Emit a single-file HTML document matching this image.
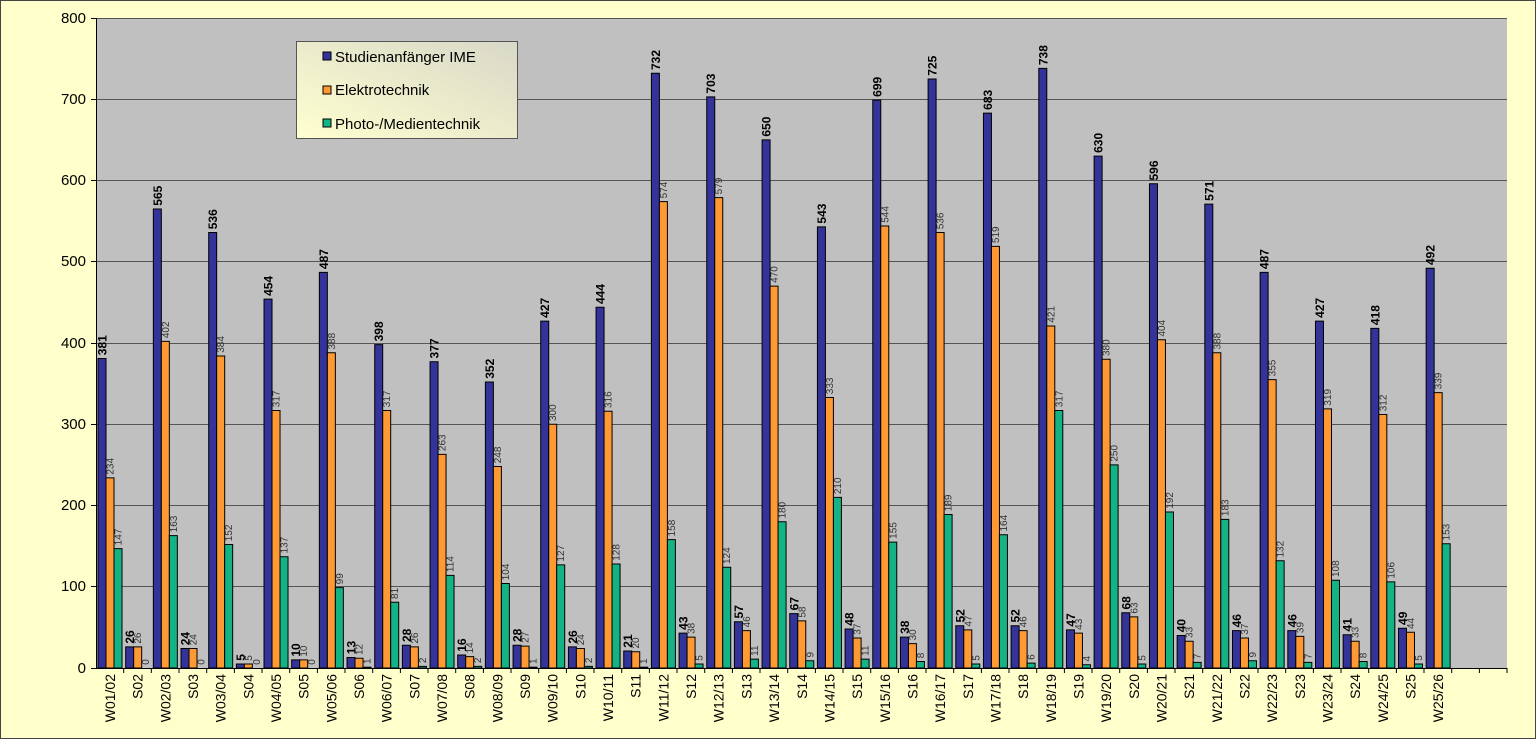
<!DOCTYPE html>
<html><head><meta charset="utf-8"><style>
html,body{margin:0;padding:0;background:#ffffcc}
svg{display:block;font-family:"Liberation Sans",Arial,sans-serif}
.c{font-size:14px;text-anchor:end;fill:#000}
.vb{font-size:12px;font-weight:bold;fill:#000}
.vs{font-size:10px;fill:#333}
.b{fill:#333399;stroke:#000;stroke-width:1;vector-effect:non-scaling-stroke}
.o{fill:#ff9933;stroke:#000;stroke-width:1;vector-effect:non-scaling-stroke}
.g{fill:#14b386;stroke:#000;stroke-width:1;vector-effect:non-scaling-stroke}
.y{font-size:15px;text-anchor:end}
</style></head><body>
<svg width="1536" height="739" viewBox="0 0 1536 739" xmlns="http://www.w3.org/2000/svg">
<defs><linearGradient id="lg" x1="0" y1="1" x2="1" y2="0"><stop offset="0" stop-color="#ffffd0"/><stop offset="1" stop-color="#d8d8c8"/></linearGradient></defs>
<rect x="0.5" y="0.5" width="1535" height="738" fill="#ffffcc" stroke="#444"/>
<rect x="96" y="18" width="1411" height="650" fill="#c0c0c0"/>
<g stroke="#555" stroke-width="1">
<line x1="96" y1="18.5" x2="1507" y2="18.5"/><line x1="96" y1="99.5" x2="1507" y2="99.5"/><line x1="96" y1="180.5" x2="1507" y2="180.5"/><line x1="96" y1="261.5" x2="1507" y2="261.5"/><line x1="96" y1="343.5" x2="1507" y2="343.5"/><line x1="96" y1="424.5" x2="1507" y2="424.5"/><line x1="96" y1="505.5" x2="1507" y2="505.5"/><line x1="96" y1="586.5" x2="1507" y2="586.5"/>
</g>
<g class="y"><text x="86" y="23">800</text><text x="86" y="104">700</text><text x="86" y="185">600</text><text x="86" y="266">500</text><text x="86" y="348">400</text><text x="86" y="429">300</text><text x="86" y="510">200</text><text x="86" y="591">100</text><text x="86" y="673">0</text></g>
<g stroke="#000" stroke-width="1"><line x1="96.5" y1="18" x2="96.5" y2="669"/><line x1="96" y1="668.5" x2="1507" y2="668.5"/>
<line x1="91" y1="18.5" x2="96" y2="18.5"/><line x1="91" y1="99.5" x2="96" y2="99.5"/><line x1="91" y1="180.5" x2="96" y2="180.5"/><line x1="91" y1="261.5" x2="96" y2="261.5"/><line x1="91" y1="343.5" x2="96" y2="343.5"/><line x1="91" y1="424.5" x2="96" y2="424.5"/><line x1="91" y1="505.5" x2="96" y2="505.5"/><line x1="91" y1="586.5" x2="96" y2="586.5"/><line x1="91" y1="668.5" x2="96" y2="668.5"/>
<line x1="123.7" y1="668" x2="123.7" y2="673"/><line x1="151.3" y1="668" x2="151.3" y2="673"/><line x1="179" y1="668" x2="179" y2="673"/><line x1="206.7" y1="668" x2="206.7" y2="673"/><line x1="234.4" y1="668" x2="234.4" y2="673"/><line x1="262" y1="668" x2="262" y2="673"/><line x1="289.7" y1="668" x2="289.7" y2="673"/><line x1="317.4" y1="668" x2="317.4" y2="673"/><line x1="345" y1="668" x2="345" y2="673"/><line x1="372.7" y1="668" x2="372.7" y2="673"/><line x1="400.4" y1="668" x2="400.4" y2="673"/><line x1="428" y1="668" x2="428" y2="673"/><line x1="455.7" y1="668" x2="455.7" y2="673"/><line x1="483.4" y1="668" x2="483.4" y2="673"/><line x1="511" y1="668" x2="511" y2="673"/><line x1="538.7" y1="668" x2="538.7" y2="673"/><line x1="566.4" y1="668" x2="566.4" y2="673"/><line x1="594" y1="668" x2="594" y2="673"/><line x1="621.7" y1="668" x2="621.7" y2="673"/><line x1="649.4" y1="668" x2="649.4" y2="673"/><line x1="677" y1="668" x2="677" y2="673"/><line x1="704.7" y1="668" x2="704.7" y2="673"/><line x1="732.4" y1="668" x2="732.4" y2="673"/><line x1="760" y1="668" x2="760" y2="673"/><line x1="787.7" y1="668" x2="787.7" y2="673"/><line x1="815.4" y1="668" x2="815.4" y2="673"/><line x1="843" y1="668" x2="843" y2="673"/><line x1="870.7" y1="668" x2="870.7" y2="673"/><line x1="898.4" y1="668" x2="898.4" y2="673"/><line x1="926" y1="668" x2="926" y2="673"/><line x1="953.7" y1="668" x2="953.7" y2="673"/><line x1="981.4" y1="668" x2="981.4" y2="673"/><line x1="1009" y1="668" x2="1009" y2="673"/><line x1="1036.7" y1="668" x2="1036.7" y2="673"/><line x1="1064.4" y1="668" x2="1064.4" y2="673"/><line x1="1092" y1="668" x2="1092" y2="673"/><line x1="1119.7" y1="668" x2="1119.7" y2="673"/><line x1="1147.4" y1="668" x2="1147.4" y2="673"/><line x1="1175" y1="668" x2="1175" y2="673"/><line x1="1202.7" y1="668" x2="1202.7" y2="673"/><line x1="1230.4" y1="668" x2="1230.4" y2="673"/><line x1="1258" y1="668" x2="1258" y2="673"/><line x1="1285.7" y1="668" x2="1285.7" y2="673"/><line x1="1313.4" y1="668" x2="1313.4" y2="673"/><line x1="1341" y1="668" x2="1341" y2="673"/><line x1="1368.7" y1="668" x2="1368.7" y2="673"/><line x1="1396.4" y1="668" x2="1396.4" y2="673"/><line x1="1424" y1="668" x2="1424" y2="673"/><line x1="1451.7" y1="668" x2="1451.7" y2="673"/><line x1="1479.4" y1="668" x2="1479.4" y2="673"/><line x1="1507" y1="668" x2="1507" y2="673"/>
</g>

<g transform="translate(96,0)"><text class="c" transform="translate(19,674) rotate(-90)">W01/02</text><g transform="translate(0,668) scale(1,-0.8125)"><rect x="2" width="8" height="381" class="b"/><rect x="10" width="8" height="234" class="o"/><rect x="18" width="8" height="147" class="g"/><text class="vb" transform="translate(10.5,385) scale(1,-1.2308) rotate(-90)">381</text><text class="vs" transform="translate(17.5,238) scale(1,-1.2308) rotate(-90)">234</text><text class="vs" transform="translate(25.5,151) scale(1,-1.2308) rotate(-90)">147</text></g></g>
<g transform="translate(123.67,0)"><text class="c" transform="translate(19,674) rotate(-90)">S02</text><g transform="translate(0,668) scale(1,-0.8125)"><rect x="2" width="8" height="26" class="b"/><rect x="10" width="8" height="26" class="o"/><rect x="18" width="8" height="0" class="g"/><text class="vb" transform="translate(10.5,30) scale(1,-1.2308) rotate(-90)">26</text><text class="vs" transform="translate(17.5,30) scale(1,-1.2308) rotate(-90)">26</text><text class="vs" transform="translate(25.5,4) scale(1,-1.2308) rotate(-90)">0</text></g></g>
<g transform="translate(151.34,0)"><text class="c" transform="translate(19,674) rotate(-90)">W02/03</text><g transform="translate(0,668) scale(1,-0.8125)"><rect x="2" width="8" height="565" class="b"/><rect x="10" width="8" height="402" class="o"/><rect x="18" width="8" height="163" class="g"/><text class="vb" transform="translate(10.5,569) scale(1,-1.2308) rotate(-90)">565</text><text class="vs" transform="translate(17.5,406) scale(1,-1.2308) rotate(-90)">402</text><text class="vs" transform="translate(25.5,167) scale(1,-1.2308) rotate(-90)">163</text></g></g>
<g transform="translate(179.01,0)"><text class="c" transform="translate(19,674) rotate(-90)">S03</text><g transform="translate(0,668) scale(1,-0.8125)"><rect x="2" width="8" height="24" class="b"/><rect x="10" width="8" height="24" class="o"/><rect x="18" width="8" height="0" class="g"/><text class="vb" transform="translate(10.5,28) scale(1,-1.2308) rotate(-90)">24</text><text class="vs" transform="translate(17.5,28) scale(1,-1.2308) rotate(-90)">24</text><text class="vs" transform="translate(25.5,4) scale(1,-1.2308) rotate(-90)">0</text></g></g>
<g transform="translate(206.68,0)"><text class="c" transform="translate(19,674) rotate(-90)">W03/04</text><g transform="translate(0,668) scale(1,-0.8125)"><rect x="2" width="8" height="536" class="b"/><rect x="10" width="8" height="384" class="o"/><rect x="18" width="8" height="152" class="g"/><text class="vb" transform="translate(10.5,540) scale(1,-1.2308) rotate(-90)">536</text><text class="vs" transform="translate(17.5,388) scale(1,-1.2308) rotate(-90)">384</text><text class="vs" transform="translate(25.5,156) scale(1,-1.2308) rotate(-90)">152</text></g></g>
<g transform="translate(234.35,0)"><text class="c" transform="translate(19,674) rotate(-90)">S04</text><g transform="translate(0,668) scale(1,-0.8125)"><rect x="2" width="8" height="5" class="b"/><rect x="10" width="8" height="5" class="o"/><rect x="18" width="8" height="0" class="g"/><text class="vb" transform="translate(10.5,9) scale(1,-1.2308) rotate(-90)">5</text><text class="vs" transform="translate(17.5,9) scale(1,-1.2308) rotate(-90)">5</text><text class="vs" transform="translate(25.5,4) scale(1,-1.2308) rotate(-90)">0</text></g></g>
<g transform="translate(262.02,0)"><text class="c" transform="translate(19,674) rotate(-90)">W04/05</text><g transform="translate(0,668) scale(1,-0.8125)"><rect x="2" width="8" height="454" class="b"/><rect x="10" width="8" height="317" class="o"/><rect x="18" width="8" height="137" class="g"/><text class="vb" transform="translate(10.5,458) scale(1,-1.2308) rotate(-90)">454</text><text class="vs" transform="translate(17.5,321) scale(1,-1.2308) rotate(-90)">317</text><text class="vs" transform="translate(25.5,141) scale(1,-1.2308) rotate(-90)">137</text></g></g>
<g transform="translate(289.69,0)"><text class="c" transform="translate(19,674) rotate(-90)">S05</text><g transform="translate(0,668) scale(1,-0.8125)"><rect x="2" width="8" height="10" class="b"/><rect x="10" width="8" height="10" class="o"/><rect x="18" width="8" height="0" class="g"/><text class="vb" transform="translate(10.5,14) scale(1,-1.2308) rotate(-90)">10</text><text class="vs" transform="translate(17.5,14) scale(1,-1.2308) rotate(-90)">10</text><text class="vs" transform="translate(25.5,4) scale(1,-1.2308) rotate(-90)">0</text></g></g>
<g transform="translate(317.36,0)"><text class="c" transform="translate(19,674) rotate(-90)">W05/06</text><g transform="translate(0,668) scale(1,-0.8125)"><rect x="2" width="8" height="487" class="b"/><rect x="10" width="8" height="388" class="o"/><rect x="18" width="8" height="99" class="g"/><text class="vb" transform="translate(10.5,491) scale(1,-1.2308) rotate(-90)">487</text><text class="vs" transform="translate(17.5,392) scale(1,-1.2308) rotate(-90)">388</text><text class="vs" transform="translate(25.5,103) scale(1,-1.2308) rotate(-90)">99</text></g></g>
<g transform="translate(345.03,0)"><text class="c" transform="translate(19,674) rotate(-90)">S06</text><g transform="translate(0,668) scale(1,-0.8125)"><rect x="2" width="8" height="13" class="b"/><rect x="10" width="8" height="12" class="o"/><rect x="18" width="8" height="1" class="g"/><text class="vb" transform="translate(10.5,17) scale(1,-1.2308) rotate(-90)">13</text><text class="vs" transform="translate(17.5,16) scale(1,-1.2308) rotate(-90)">12</text><text class="vs" transform="translate(25.5,5) scale(1,-1.2308) rotate(-90)">1</text></g></g>
<g transform="translate(372.7,0)"><text class="c" transform="translate(19,674) rotate(-90)">W06/07</text><g transform="translate(0,668) scale(1,-0.8125)"><rect x="2" width="8" height="398" class="b"/><rect x="10" width="8" height="317" class="o"/><rect x="18" width="8" height="81" class="g"/><text class="vb" transform="translate(10.5,402) scale(1,-1.2308) rotate(-90)">398</text><text class="vs" transform="translate(17.5,321) scale(1,-1.2308) rotate(-90)">317</text><text class="vs" transform="translate(25.5,85) scale(1,-1.2308) rotate(-90)">81</text></g></g>
<g transform="translate(400.37,0)"><text class="c" transform="translate(19,674) rotate(-90)">S07</text><g transform="translate(0,668) scale(1,-0.8125)"><rect x="2" width="8" height="28" class="b"/><rect x="10" width="8" height="26" class="o"/><rect x="18" width="8" height="2" class="g"/><text class="vb" transform="translate(10.5,32) scale(1,-1.2308) rotate(-90)">28</text><text class="vs" transform="translate(17.5,30) scale(1,-1.2308) rotate(-90)">26</text><text class="vs" transform="translate(25.5,6) scale(1,-1.2308) rotate(-90)">2</text></g></g>
<g transform="translate(428.04,0)"><text class="c" transform="translate(19,674) rotate(-90)">W07/08</text><g transform="translate(0,668) scale(1,-0.8125)"><rect x="2" width="8" height="377" class="b"/><rect x="10" width="8" height="263" class="o"/><rect x="18" width="8" height="114" class="g"/><text class="vb" transform="translate(10.5,381) scale(1,-1.2308) rotate(-90)">377</text><text class="vs" transform="translate(17.5,267) scale(1,-1.2308) rotate(-90)">263</text><text class="vs" transform="translate(25.5,118) scale(1,-1.2308) rotate(-90)">114</text></g></g>
<g transform="translate(455.71,0)"><text class="c" transform="translate(19,674) rotate(-90)">S08</text><g transform="translate(0,668) scale(1,-0.8125)"><rect x="2" width="8" height="16" class="b"/><rect x="10" width="8" height="14" class="o"/><rect x="18" width="8" height="2" class="g"/><text class="vb" transform="translate(10.5,20) scale(1,-1.2308) rotate(-90)">16</text><text class="vs" transform="translate(17.5,18) scale(1,-1.2308) rotate(-90)">14</text><text class="vs" transform="translate(25.5,6) scale(1,-1.2308) rotate(-90)">2</text></g></g>
<g transform="translate(483.38,0)"><text class="c" transform="translate(19,674) rotate(-90)">W08/09</text><g transform="translate(0,668) scale(1,-0.8125)"><rect x="2" width="8" height="352" class="b"/><rect x="10" width="8" height="248" class="o"/><rect x="18" width="8" height="104" class="g"/><text class="vb" transform="translate(10.5,356) scale(1,-1.2308) rotate(-90)">352</text><text class="vs" transform="translate(17.5,252) scale(1,-1.2308) rotate(-90)">248</text><text class="vs" transform="translate(25.5,108) scale(1,-1.2308) rotate(-90)">104</text></g></g>
<g transform="translate(511.05,0)"><text class="c" transform="translate(19,674) rotate(-90)">S09</text><g transform="translate(0,668) scale(1,-0.8125)"><rect x="2" width="8" height="28" class="b"/><rect x="10" width="8" height="27" class="o"/><rect x="18" width="8" height="1" class="g"/><text class="vb" transform="translate(10.5,32) scale(1,-1.2308) rotate(-90)">28</text><text class="vs" transform="translate(17.5,31) scale(1,-1.2308) rotate(-90)">27</text><text class="vs" transform="translate(25.5,5) scale(1,-1.2308) rotate(-90)">1</text></g></g>
<g transform="translate(538.72,0)"><text class="c" transform="translate(19,674) rotate(-90)">W09/10</text><g transform="translate(0,668) scale(1,-0.8125)"><rect x="2" width="8" height="427" class="b"/><rect x="10" width="8" height="300" class="o"/><rect x="18" width="8" height="127" class="g"/><text class="vb" transform="translate(10.5,431) scale(1,-1.2308) rotate(-90)">427</text><text class="vs" transform="translate(17.5,304) scale(1,-1.2308) rotate(-90)">300</text><text class="vs" transform="translate(25.5,131) scale(1,-1.2308) rotate(-90)">127</text></g></g>
<g transform="translate(566.39,0)"><text class="c" transform="translate(19,674) rotate(-90)">S10</text><g transform="translate(0,668) scale(1,-0.8125)"><rect x="2" width="8" height="26" class="b"/><rect x="10" width="8" height="24" class="o"/><rect x="18" width="8" height="2" class="g"/><text class="vb" transform="translate(10.5,30) scale(1,-1.2308) rotate(-90)">26</text><text class="vs" transform="translate(17.5,28) scale(1,-1.2308) rotate(-90)">24</text><text class="vs" transform="translate(25.5,6) scale(1,-1.2308) rotate(-90)">2</text></g></g>
<g transform="translate(594.06,0)"><text class="c" transform="translate(19,674) rotate(-90)">W10/11</text><g transform="translate(0,668) scale(1,-0.8125)"><rect x="2" width="8" height="444" class="b"/><rect x="10" width="8" height="316" class="o"/><rect x="18" width="8" height="128" class="g"/><text class="vb" transform="translate(10.5,448) scale(1,-1.2308) rotate(-90)">444</text><text class="vs" transform="translate(17.5,320) scale(1,-1.2308) rotate(-90)">316</text><text class="vs" transform="translate(25.5,132) scale(1,-1.2308) rotate(-90)">128</text></g></g>
<g transform="translate(621.73,0)"><text class="c" transform="translate(19,674) rotate(-90)">S11</text><g transform="translate(0,668) scale(1,-0.8125)"><rect x="2" width="8" height="21" class="b"/><rect x="10" width="8" height="20" class="o"/><rect x="18" width="8" height="1" class="g"/><text class="vb" transform="translate(10.5,25) scale(1,-1.2308) rotate(-90)">21</text><text class="vs" transform="translate(17.5,24) scale(1,-1.2308) rotate(-90)">20</text><text class="vs" transform="translate(25.5,5) scale(1,-1.2308) rotate(-90)">1</text></g></g>
<g transform="translate(649.4,0)"><text class="c" transform="translate(19,674) rotate(-90)">W11/12</text><g transform="translate(0,668) scale(1,-0.8125)"><rect x="2" width="8" height="732" class="b"/><rect x="10" width="8" height="574" class="o"/><rect x="18" width="8" height="158" class="g"/><text class="vb" transform="translate(10.5,736) scale(1,-1.2308) rotate(-90)">732</text><text class="vs" transform="translate(17.5,578) scale(1,-1.2308) rotate(-90)">574</text><text class="vs" transform="translate(25.5,162) scale(1,-1.2308) rotate(-90)">158</text></g></g>
<g transform="translate(677.07,0)"><text class="c" transform="translate(19,674) rotate(-90)">S12</text><g transform="translate(0,668) scale(1,-0.8125)"><rect x="2" width="8" height="43" class="b"/><rect x="10" width="8" height="38" class="o"/><rect x="18" width="8" height="5" class="g"/><text class="vb" transform="translate(10.5,47) scale(1,-1.2308) rotate(-90)">43</text><text class="vs" transform="translate(17.5,42) scale(1,-1.2308) rotate(-90)">38</text><text class="vs" transform="translate(25.5,9) scale(1,-1.2308) rotate(-90)">5</text></g></g>
<g transform="translate(704.74,0)"><text class="c" transform="translate(19,674) rotate(-90)">W12/13</text><g transform="translate(0,668) scale(1,-0.8125)"><rect x="2" width="8" height="703" class="b"/><rect x="10" width="8" height="579" class="o"/><rect x="18" width="8" height="124" class="g"/><text class="vb" transform="translate(10.5,707) scale(1,-1.2308) rotate(-90)">703</text><text class="vs" transform="translate(17.5,583) scale(1,-1.2308) rotate(-90)">579</text><text class="vs" transform="translate(25.5,128) scale(1,-1.2308) rotate(-90)">124</text></g></g>
<g transform="translate(732.41,0)"><text class="c" transform="translate(19,674) rotate(-90)">S13</text><g transform="translate(0,668) scale(1,-0.8125)"><rect x="2" width="8" height="57" class="b"/><rect x="10" width="8" height="46" class="o"/><rect x="18" width="8" height="11" class="g"/><text class="vb" transform="translate(10.5,61) scale(1,-1.2308) rotate(-90)">57</text><text class="vs" transform="translate(17.5,50) scale(1,-1.2308) rotate(-90)">46</text><text class="vs" transform="translate(25.5,15) scale(1,-1.2308) rotate(-90)">11</text></g></g>
<g transform="translate(760.08,0)"><text class="c" transform="translate(19,674) rotate(-90)">W13/14</text><g transform="translate(0,668) scale(1,-0.8125)"><rect x="2" width="8" height="650" class="b"/><rect x="10" width="8" height="470" class="o"/><rect x="18" width="8" height="180" class="g"/><text class="vb" transform="translate(10.5,654) scale(1,-1.2308) rotate(-90)">650</text><text class="vs" transform="translate(17.5,474) scale(1,-1.2308) rotate(-90)">470</text><text class="vs" transform="translate(25.5,184) scale(1,-1.2308) rotate(-90)">180</text></g></g>
<g transform="translate(787.75,0)"><text class="c" transform="translate(19,674) rotate(-90)">S14</text><g transform="translate(0,668) scale(1,-0.8125)"><rect x="2" width="8" height="67" class="b"/><rect x="10" width="8" height="58" class="o"/><rect x="18" width="8" height="9" class="g"/><text class="vb" transform="translate(10.5,71) scale(1,-1.2308) rotate(-90)">67</text><text class="vs" transform="translate(17.5,62) scale(1,-1.2308) rotate(-90)">58</text><text class="vs" transform="translate(25.5,13) scale(1,-1.2308) rotate(-90)">9</text></g></g>
<g transform="translate(815.42,0)"><text class="c" transform="translate(19,674) rotate(-90)">W14/15</text><g transform="translate(0,668) scale(1,-0.8125)"><rect x="2" width="8" height="543" class="b"/><rect x="10" width="8" height="333" class="o"/><rect x="18" width="8" height="210" class="g"/><text class="vb" transform="translate(10.5,547) scale(1,-1.2308) rotate(-90)">543</text><text class="vs" transform="translate(17.5,337) scale(1,-1.2308) rotate(-90)">333</text><text class="vs" transform="translate(25.5,214) scale(1,-1.2308) rotate(-90)">210</text></g></g>
<g transform="translate(843.09,0)"><text class="c" transform="translate(19,674) rotate(-90)">S15</text><g transform="translate(0,668) scale(1,-0.8125)"><rect x="2" width="8" height="48" class="b"/><rect x="10" width="8" height="37" class="o"/><rect x="18" width="8" height="11" class="g"/><text class="vb" transform="translate(10.5,52) scale(1,-1.2308) rotate(-90)">48</text><text class="vs" transform="translate(17.5,41) scale(1,-1.2308) rotate(-90)">37</text><text class="vs" transform="translate(25.5,15) scale(1,-1.2308) rotate(-90)">11</text></g></g>
<g transform="translate(870.76,0)"><text class="c" transform="translate(19,674) rotate(-90)">W15/16</text><g transform="translate(0,668) scale(1,-0.8125)"><rect x="2" width="8" height="699" class="b"/><rect x="10" width="8" height="544" class="o"/><rect x="18" width="8" height="155" class="g"/><text class="vb" transform="translate(10.5,703) scale(1,-1.2308) rotate(-90)">699</text><text class="vs" transform="translate(17.5,548) scale(1,-1.2308) rotate(-90)">544</text><text class="vs" transform="translate(25.5,159) scale(1,-1.2308) rotate(-90)">155</text></g></g>
<g transform="translate(898.43,0)"><text class="c" transform="translate(19,674) rotate(-90)">S16</text><g transform="translate(0,668) scale(1,-0.8125)"><rect x="2" width="8" height="38" class="b"/><rect x="10" width="8" height="30" class="o"/><rect x="18" width="8" height="8" class="g"/><text class="vb" transform="translate(10.5,42) scale(1,-1.2308) rotate(-90)">38</text><text class="vs" transform="translate(17.5,34) scale(1,-1.2308) rotate(-90)">30</text><text class="vs" transform="translate(25.5,12) scale(1,-1.2308) rotate(-90)">8</text></g></g>
<g transform="translate(926.1,0)"><text class="c" transform="translate(19,674) rotate(-90)">W16/17</text><g transform="translate(0,668) scale(1,-0.8125)"><rect x="2" width="8" height="725" class="b"/><rect x="10" width="8" height="536" class="o"/><rect x="18" width="8" height="189" class="g"/><text class="vb" transform="translate(10.5,729) scale(1,-1.2308) rotate(-90)">725</text><text class="vs" transform="translate(17.5,540) scale(1,-1.2308) rotate(-90)">536</text><text class="vs" transform="translate(25.5,193) scale(1,-1.2308) rotate(-90)">189</text></g></g>
<g transform="translate(953.77,0)"><text class="c" transform="translate(19,674) rotate(-90)">S17</text><g transform="translate(0,668) scale(1,-0.8125)"><rect x="2" width="8" height="52" class="b"/><rect x="10" width="8" height="47" class="o"/><rect x="18" width="8" height="5" class="g"/><text class="vb" transform="translate(10.5,56) scale(1,-1.2308) rotate(-90)">52</text><text class="vs" transform="translate(17.5,51) scale(1,-1.2308) rotate(-90)">47</text><text class="vs" transform="translate(25.5,9) scale(1,-1.2308) rotate(-90)">5</text></g></g>
<g transform="translate(981.44,0)"><text class="c" transform="translate(19,674) rotate(-90)">W17/18</text><g transform="translate(0,668) scale(1,-0.8125)"><rect x="2" width="8" height="683" class="b"/><rect x="10" width="8" height="519" class="o"/><rect x="18" width="8" height="164" class="g"/><text class="vb" transform="translate(10.5,687) scale(1,-1.2308) rotate(-90)">683</text><text class="vs" transform="translate(17.5,523) scale(1,-1.2308) rotate(-90)">519</text><text class="vs" transform="translate(25.5,168) scale(1,-1.2308) rotate(-90)">164</text></g></g>
<g transform="translate(1009.11,0)"><text class="c" transform="translate(19,674) rotate(-90)">S18</text><g transform="translate(0,668) scale(1,-0.8125)"><rect x="2" width="8" height="52" class="b"/><rect x="10" width="8" height="46" class="o"/><rect x="18" width="8" height="6" class="g"/><text class="vb" transform="translate(10.5,56) scale(1,-1.2308) rotate(-90)">52</text><text class="vs" transform="translate(17.5,50) scale(1,-1.2308) rotate(-90)">46</text><text class="vs" transform="translate(25.5,10) scale(1,-1.2308) rotate(-90)">6</text></g></g>
<g transform="translate(1036.78,0)"><text class="c" transform="translate(19,674) rotate(-90)">W18/19</text><g transform="translate(0,668) scale(1,-0.8125)"><rect x="2" width="8" height="738" class="b"/><rect x="10" width="8" height="421" class="o"/><rect x="18" width="8" height="317" class="g"/><text class="vb" transform="translate(10.5,742) scale(1,-1.2308) rotate(-90)">738</text><text class="vs" transform="translate(17.5,425) scale(1,-1.2308) rotate(-90)">421</text><text class="vs" transform="translate(25.5,321) scale(1,-1.2308) rotate(-90)">317</text></g></g>
<g transform="translate(1064.45,0)"><text class="c" transform="translate(19,674) rotate(-90)">S19</text><g transform="translate(0,668) scale(1,-0.8125)"><rect x="2" width="8" height="47" class="b"/><rect x="10" width="8" height="43" class="o"/><rect x="18" width="8" height="4" class="g"/><text class="vb" transform="translate(10.5,51) scale(1,-1.2308) rotate(-90)">47</text><text class="vs" transform="translate(17.5,47) scale(1,-1.2308) rotate(-90)">43</text><text class="vs" transform="translate(25.5,8) scale(1,-1.2308) rotate(-90)">4</text></g></g>
<g transform="translate(1092.12,0)"><text class="c" transform="translate(19,674) rotate(-90)">W19/20</text><g transform="translate(0,668) scale(1,-0.8125)"><rect x="2" width="8" height="630" class="b"/><rect x="10" width="8" height="380" class="o"/><rect x="18" width="8" height="250" class="g"/><text class="vb" transform="translate(10.5,634) scale(1,-1.2308) rotate(-90)">630</text><text class="vs" transform="translate(17.5,384) scale(1,-1.2308) rotate(-90)">380</text><text class="vs" transform="translate(25.5,254) scale(1,-1.2308) rotate(-90)">250</text></g></g>
<g transform="translate(1119.79,0)"><text class="c" transform="translate(19,674) rotate(-90)">S20</text><g transform="translate(0,668) scale(1,-0.8125)"><rect x="2" width="8" height="68" class="b"/><rect x="10" width="8" height="63" class="o"/><rect x="18" width="8" height="5" class="g"/><text class="vb" transform="translate(10.5,72) scale(1,-1.2308) rotate(-90)">68</text><text class="vs" transform="translate(17.5,67) scale(1,-1.2308) rotate(-90)">63</text><text class="vs" transform="translate(25.5,9) scale(1,-1.2308) rotate(-90)">5</text></g></g>
<g transform="translate(1147.46,0)"><text class="c" transform="translate(19,674) rotate(-90)">W20/21</text><g transform="translate(0,668) scale(1,-0.8125)"><rect x="2" width="8" height="596" class="b"/><rect x="10" width="8" height="404" class="o"/><rect x="18" width="8" height="192" class="g"/><text class="vb" transform="translate(10.5,600) scale(1,-1.2308) rotate(-90)">596</text><text class="vs" transform="translate(17.5,408) scale(1,-1.2308) rotate(-90)">404</text><text class="vs" transform="translate(25.5,196) scale(1,-1.2308) rotate(-90)">192</text></g></g>
<g transform="translate(1175.13,0)"><text class="c" transform="translate(19,674) rotate(-90)">S21</text><g transform="translate(0,668) scale(1,-0.8125)"><rect x="2" width="8" height="40" class="b"/><rect x="10" width="8" height="33" class="o"/><rect x="18" width="8" height="7" class="g"/><text class="vb" transform="translate(10.5,44) scale(1,-1.2308) rotate(-90)">40</text><text class="vs" transform="translate(17.5,37) scale(1,-1.2308) rotate(-90)">33</text><text class="vs" transform="translate(25.5,11) scale(1,-1.2308) rotate(-90)">7</text></g></g>
<g transform="translate(1202.8,0)"><text class="c" transform="translate(19,674) rotate(-90)">W21/22</text><g transform="translate(0,668) scale(1,-0.8125)"><rect x="2" width="8" height="571" class="b"/><rect x="10" width="8" height="388" class="o"/><rect x="18" width="8" height="183" class="g"/><text class="vb" transform="translate(10.5,575) scale(1,-1.2308) rotate(-90)">571</text><text class="vs" transform="translate(17.5,392) scale(1,-1.2308) rotate(-90)">388</text><text class="vs" transform="translate(25.5,187) scale(1,-1.2308) rotate(-90)">183</text></g></g>
<g transform="translate(1230.47,0)"><text class="c" transform="translate(19,674) rotate(-90)">S22</text><g transform="translate(0,668) scale(1,-0.8125)"><rect x="2" width="8" height="46" class="b"/><rect x="10" width="8" height="37" class="o"/><rect x="18" width="8" height="9" class="g"/><text class="vb" transform="translate(10.5,50) scale(1,-1.2308) rotate(-90)">46</text><text class="vs" transform="translate(17.5,41) scale(1,-1.2308) rotate(-90)">37</text><text class="vs" transform="translate(25.5,13) scale(1,-1.2308) rotate(-90)">9</text></g></g>
<g transform="translate(1258.14,0)"><text class="c" transform="translate(19,674) rotate(-90)">W22/23</text><g transform="translate(0,668) scale(1,-0.8125)"><rect x="2" width="8" height="487" class="b"/><rect x="10" width="8" height="355" class="o"/><rect x="18" width="8" height="132" class="g"/><text class="vb" transform="translate(10.5,491) scale(1,-1.2308) rotate(-90)">487</text><text class="vs" transform="translate(17.5,359) scale(1,-1.2308) rotate(-90)">355</text><text class="vs" transform="translate(25.5,136) scale(1,-1.2308) rotate(-90)">132</text></g></g>
<g transform="translate(1285.81,0)"><text class="c" transform="translate(19,674) rotate(-90)">S23</text><g transform="translate(0,668) scale(1,-0.8125)"><rect x="2" width="8" height="46" class="b"/><rect x="10" width="8" height="39" class="o"/><rect x="18" width="8" height="7" class="g"/><text class="vb" transform="translate(10.5,50) scale(1,-1.2308) rotate(-90)">46</text><text class="vs" transform="translate(17.5,43) scale(1,-1.2308) rotate(-90)">39</text><text class="vs" transform="translate(25.5,11) scale(1,-1.2308) rotate(-90)">7</text></g></g>
<g transform="translate(1313.48,0)"><text class="c" transform="translate(19,674) rotate(-90)">W23/24</text><g transform="translate(0,668) scale(1,-0.8125)"><rect x="2" width="8" height="427" class="b"/><rect x="10" width="8" height="319" class="o"/><rect x="18" width="8" height="108" class="g"/><text class="vb" transform="translate(10.5,431) scale(1,-1.2308) rotate(-90)">427</text><text class="vs" transform="translate(17.5,323) scale(1,-1.2308) rotate(-90)">319</text><text class="vs" transform="translate(25.5,112) scale(1,-1.2308) rotate(-90)">108</text></g></g>
<g transform="translate(1341.15,0)"><text class="c" transform="translate(19,674) rotate(-90)">S24</text><g transform="translate(0,668) scale(1,-0.8125)"><rect x="2" width="8" height="41" class="b"/><rect x="10" width="8" height="33" class="o"/><rect x="18" width="8" height="8" class="g"/><text class="vb" transform="translate(10.5,45) scale(1,-1.2308) rotate(-90)">41</text><text class="vs" transform="translate(17.5,37) scale(1,-1.2308) rotate(-90)">33</text><text class="vs" transform="translate(25.5,12) scale(1,-1.2308) rotate(-90)">8</text></g></g>
<g transform="translate(1368.82,0)"><text class="c" transform="translate(19,674) rotate(-90)">W24/25</text><g transform="translate(0,668) scale(1,-0.8125)"><rect x="2" width="8" height="418" class="b"/><rect x="10" width="8" height="312" class="o"/><rect x="18" width="8" height="106" class="g"/><text class="vb" transform="translate(10.5,422) scale(1,-1.2308) rotate(-90)">418</text><text class="vs" transform="translate(17.5,316) scale(1,-1.2308) rotate(-90)">312</text><text class="vs" transform="translate(25.5,110) scale(1,-1.2308) rotate(-90)">106</text></g></g>
<g transform="translate(1396.49,0)"><text class="c" transform="translate(19,674) rotate(-90)">S25</text><g transform="translate(0,668) scale(1,-0.8125)"><rect x="2" width="8" height="49" class="b"/><rect x="10" width="8" height="44" class="o"/><rect x="18" width="8" height="5" class="g"/><text class="vb" transform="translate(10.5,53) scale(1,-1.2308) rotate(-90)">49</text><text class="vs" transform="translate(17.5,48) scale(1,-1.2308) rotate(-90)">44</text><text class="vs" transform="translate(25.5,9) scale(1,-1.2308) rotate(-90)">5</text></g></g>
<g transform="translate(1424.16,0)"><text class="c" transform="translate(19,674) rotate(-90)">W25/26</text><g transform="translate(0,668) scale(1,-0.8125)"><rect x="2" width="8" height="492" class="b"/><rect x="10" width="8" height="339" class="o"/><rect x="18" width="8" height="153" class="g"/><text class="vb" transform="translate(10.5,496) scale(1,-1.2308) rotate(-90)">492</text><text class="vs" transform="translate(17.5,343) scale(1,-1.2308) rotate(-90)">339</text><text class="vs" transform="translate(25.5,157) scale(1,-1.2308) rotate(-90)">153</text></g></g>

<rect x="296.5" y="41.5" width="221" height="97" fill="url(#lg)" stroke="#555"/>
<rect x="323" y="52" width="8" height="8" fill="#333399" stroke="#000"/>
<rect x="323" y="86" width="8" height="8" fill="#ff9933" stroke="#000"/>
<rect x="323" y="119" width="8" height="8" fill="#14b386" stroke="#000"/>
<g font-size="15" fill="#000"><text x="335" y="62">Studienanfänger IME</text><text x="335" y="95">Elektrotechnik</text><text x="335" y="129">Photo-/Medientechnik</text></g>
</svg>
</body></html>
